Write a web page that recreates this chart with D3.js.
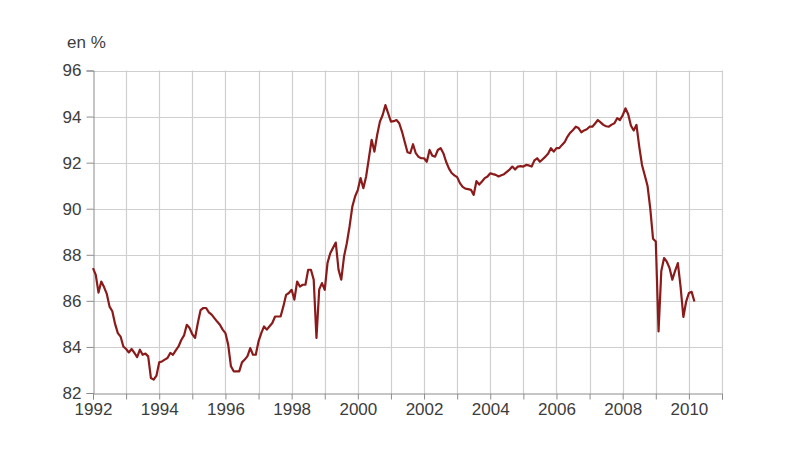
<!DOCTYPE html>
<html>
<head>
<meta charset="utf-8">
<script src="https://cdn.jsdelivr.net/npm/d3@7"></script>
<style>
html,body{margin:0;padding:0;background:#fff;}
svg{display:block;font-family:"Liberation Sans",Arial,sans-serif;}
</style>
</head>
<body>
<svg id="chart" width="800" height="453"></svg>
<script>
// Monthly series, January 1992 to March 2010 (values in %)
const startYear = 1992;
const values1992 = [87.42,87.13,86.36,86.84,86.6,86.3,85.75,85.55,85.0,84.6,84.45,84.02];
const values1993 = [83.91,83.76,83.91,83.74,83.56,83.88,83.66,83.71,83.59,82.65,82.58,82.75];
const values1994 = [83.33,83.37,83.45,83.52,83.74,83.66,83.85,84.02,84.3,84.5,84.96,84.82];
const values1995 = [84.55,84.39,85.04,85.6,85.69,85.69,85.5,85.4,85.25,85.1,84.96,84.75];
const values1996 = [84.6,84.1,83.16,82.94,82.94,82.94,83.33,83.45,83.6,83.95,83.66,83.66];
const values1997 = [84.24,84.6,84.89,84.75,84.9,85.04,85.32,85.32,85.32,85.76,86.26,86.34];
const values1998 = [86.48,86.05,86.84,86.62,86.7,86.7,87.35,87.35,86.92,84.39,86.5,86.77];
const values1999 = [86.48,87.64,88.07,88.3,88.53,87.35,86.92,87.93,88.5,89.23,90.09,90.53];
const values2000 = [90.82,91.33,90.89,91.4,92.19,92.99,92.48,93.2,93.78,94.07,94.5,94.14];
const values2001 = [93.78,93.8,93.85,93.71,93.35,92.9,92.45,92.41,92.8,92.41,92.25,92.19];
const values2002 = [92.19,92.04,92.55,92.3,92.26,92.55,92.63,92.41,92.04,91.75,91.55,91.45];
const values2003 = [91.37,91.11,90.95,90.87,90.85,90.82,90.6,91.2,91.05,91.18,91.33,91.4];
const values2004 = [91.54,91.5,91.47,91.4,91.45,91.5,91.6,91.7,91.83,91.7,91.83,91.85];
const values2005 = [91.83,91.9,91.88,91.83,92.1,92.19,92.04,92.15,92.26,92.4,92.63,92.48];
const values2006 = [92.63,92.63,92.77,92.9,93.13,93.3,93.42,93.56,93.5,93.32,93.4,93.45];
const values2007 = [93.56,93.56,93.7,93.85,93.75,93.64,93.58,93.56,93.65,93.71,93.93,93.85];
const values2008 = [94.05,94.36,94.1,93.6,93.4,93.64,92.7,91.9,91.45,91.0,90.0,88.7];
const values2009 = [88.58,84.67,87.3,87.86,87.7,87.42,86.92,87.3,87.64,86.6,85.3,85.97];
const values2010 = [86.34,86.39,85.97];

const yTicks = [82,84,86,88,90,92,94,96];
const xTickYears = [1992,1994,1996,1998,2000,2002,2004,2006,2008,2010];
const gridYears = d3.range(1992, 2012);
const unitLabel = "en %";

const allValues = [].concat(values1992,values1993,values1994,values1995,values1996,values1997,
  values1998,values1999,values2000,values2001,values2002,values2003,values2004,values2005,
  values2006,values2007,values2008,values2009,values2010);
const data = allValues.map((v,i)=>({t: startYear + i/12, v: v}));

const svg = d3.select("#chart");
const x = d3.scaleLinear().domain([1992, 2011]).range([93, 722]);
const y = d3.scaleLinear().domain([82, 96]).range([393, 70.5]);

const gridColor = "#cfcfcf";
const axisColor = "#8c8c8c";
const textColor = "#3d3d3d";

// horizontal gridlines
svg.append("g").selectAll("line").data(yTicks.filter(d=>d>82)).join("line")
  .attr("x1", x(1992)).attr("x2", x(2011))
  .attr("y1", d=>Math.round(y(d))+0.5).attr("y2", d=>Math.round(y(d))+0.5)
  .attr("stroke", gridColor).attr("stroke-width", 1.2);
// vertical gridlines
svg.append("g").selectAll("line").data(gridYears.filter(d=>d>1992)).join("line")
  .attr("x1", d=>Math.round(x(d))+0.5).attr("x2", d=>Math.round(x(d))+0.5)
  .attr("y1", y(96)).attr("y2", y(82))
  .attr("stroke", gridColor).attr("stroke-width", 1.2);

// Y axis
const yAxis = d3.axisLeft(y).tickValues(yTicks).tickSize(7).tickPadding(5).tickFormat(d3.format("d"));
const gy = svg.append("g").attr("transform", `translate(${Math.round(x(1992))+0.5},0)`).call(yAxis);
gy.select(".domain").attr("stroke", axisColor);
gy.selectAll(".tick line").attr("stroke", axisColor);
gy.selectAll("text").attr("fill", textColor).style("font-size","17px").attr("font-family","Liberation Sans, Arial, sans-serif");

// X axis
const xAxis = d3.axisBottom(x).tickValues(gridYears).tickSize(6).tickPadding(3)
  .tickFormat(d => xTickYears.includes(d) ? String(d) : "");
const gx = svg.append("g").attr("transform", `translate(0,${Math.round(y(82))+0.5})`).call(xAxis);
gx.select(".domain").attr("stroke", axisColor);
gx.selectAll(".tick line").attr("stroke", axisColor);
gx.selectAll("text").attr("fill", textColor).style("font-size","17px").attr("font-family","Liberation Sans, Arial, sans-serif");

// unit label
svg.append("text").attr("x", 67).attr("y", 48).text(unitLabel)
  .attr("fill", textColor).style("font-size","17px");

// line
const line = d3.line().x(d=>x(d.t)).y(d=>y(d.v)).curve(d3.curveLinear);
svg.append("path").datum(data).attr("d", line)
  .attr("fill","none").attr("stroke","#8b1a1a").attr("stroke-width",2.2)
  .attr("stroke-linejoin","round");
</script>
</body>
</html>
